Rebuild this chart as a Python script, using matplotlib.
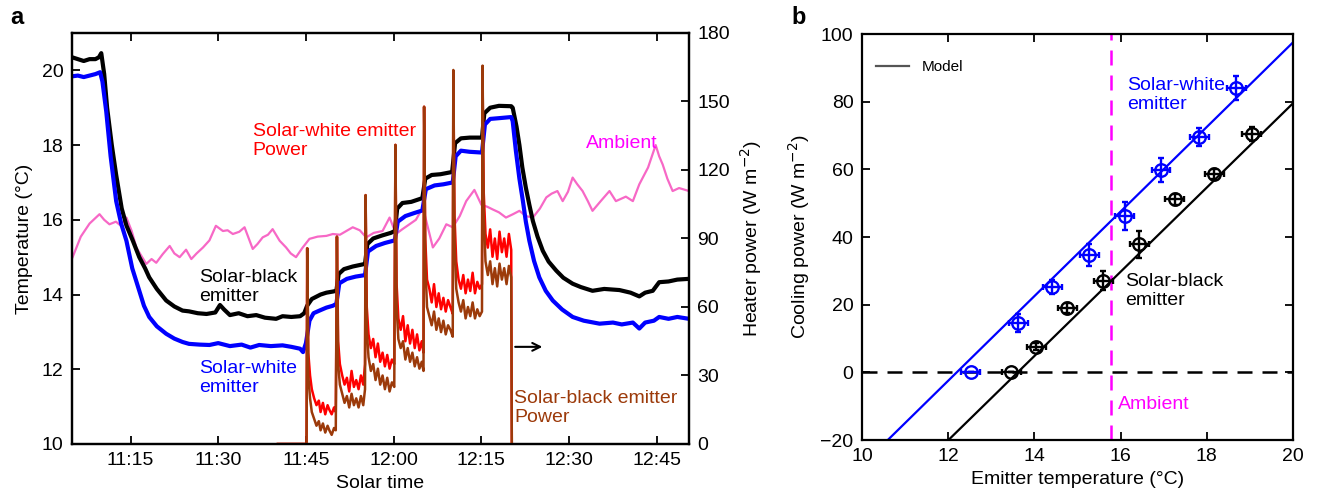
import matplotlib.pyplot as plt
import numpy as np

plt.rcParams['font.family'] = ['Liberation Sans', 'DejaVu Sans']
plt.rcParams['font.size'] = 14

# ---- panel a: time in minutes after 11:00 ----
time_ticks = [15, 30, 45, 60, 75, 90, 105]
time_labels = ['11:15', '11:30', '11:45', '12:00', '12:15', '12:30', '12:45']

black_t = [5, 6, 7, 8, 9, 9.6, 10.0, 10.5, 11.0, 11.8, 12.55, 13.5, 14.3, 15.4, 16.5, 17.5, 18.2, 19.5,
           21.1, 22.5, 23.9, 25, 26.5, 28, 29.5, 30.3, 31, 32, 33.5, 35, 36.5, 38, 39.9, 41, 42.5, 44,
           44.7, 45.2, 46, 47.5, 48.5, 49.6, 50.2, 50.6, 51.5, 53, 54.5, 55.1, 55.5, 56.5, 58, 59.5,
           60.2, 60.6, 61.5, 63, 64.9, 65.4, 66.5, 68, 70.0, 70.5, 71.5, 73, 75.1, 75.5, 76.5, 78,
           80.1, 80.35, 81.0, 81.5, 82.0, 82.6, 83.2, 83.8, 84.6, 85.5, 86.5, 87.8, 89, 90.6, 92, 94,
           96, 98.6, 100.5, 102, 103, 104.3, 105.4, 107, 108.5, 110.5]
black_T = [20.35, 20.3, 20.25, 20.3, 20.3, 20.35, 20.46, 19.9, 19.0, 18.0, 17.2, 16.3, 15.85, 15.44,
           15.0, 14.7, 14.46, 14.15, 13.84, 13.68, 13.57, 13.55, 13.5, 13.48, 13.52, 13.72, 13.6,
           13.45, 13.5, 13.42, 13.45, 13.38, 13.35, 13.42, 13.4, 13.42, 13.5, 13.7, 13.88, 14.0,
           14.05, 14.08, 14.1, 14.55, 14.68, 14.75, 14.8, 14.82, 15.35, 15.5, 15.58, 15.65, 15.7,
           16.3, 16.45, 16.48, 16.58, 17.1, 17.2, 17.22, 17.28, 18.05, 18.18, 18.2, 18.2, 18.85,
           19.0, 19.05, 19.04, 19.0, 18.5, 18.0, 17.4, 16.86, 16.4, 15.97, 15.55, 15.17, 14.88,
           14.64, 14.45, 14.29, 14.2, 14.1, 14.15, 14.12, 14.05, 13.95, 14.05, 14.1, 14.33, 14.35,
           14.4, 14.42]

blue_t = [5, 6, 7, 8, 9, 9.8, 10.2, 10.85, 11.6, 12.55, 13.4, 14.3, 15.3, 16.5, 17.3, 18.2, 19.5, 21.1,
          22.5, 23.9, 25, 26.8, 28.5, 30, 32, 34, 35.5, 37, 39, 41, 42.5, 44.0, 44.5, 45.0, 45.6,
          46.3, 47.3, 48.5, 49.6, 50.2, 50.7, 52, 53.5, 55.1, 55.6, 57, 58.5, 60.2, 60.7, 62, 63.5,
          64.9, 65.5, 67, 68.5, 70.1, 70.6, 71.5, 73, 75.1, 75.6, 76.5, 78, 80.1, 80.35, 80.9, 81.5,
          82.1, 82.6, 83.2, 84.0, 84.9, 86, 87.2, 88.8, 90.6, 92.5, 95.2, 97.5, 99, 100.9, 102, 103,
          104.5, 105.4, 107, 108.5, 110.5]
blue_T = [19.84, 19.86, 19.82, 19.86, 19.9, 19.95, 19.7, 18.9, 17.7, 16.5, 15.9, 15.44, 14.7, 14.1,
          13.7, 13.4, 13.15, 12.95, 12.82, 12.73, 12.68, 12.66, 12.65, 12.7, 12.62, 12.66, 12.58,
          12.65, 12.62, 12.64, 12.6, 12.55, 12.46, 12.7, 13.3, 13.5, 13.57, 13.65, 13.7, 13.75,
          14.3, 14.42, 14.48, 14.52, 15.15, 15.3, 15.38, 15.45, 15.95, 16.1, 16.18, 16.25, 16.82,
          16.92, 16.95, 17.0, 17.7, 17.85, 17.82, 17.8, 18.55, 18.7, 18.72, 18.75, 18.64, 17.84,
          17.1, 16.5, 15.95, 15.44, 14.9, 14.46, 14.1, 13.84, 13.6, 13.4, 13.3, 13.22, 13.25, 13.2,
          13.25, 13.09, 13.25, 13.3, 13.4, 13.35, 13.4, 13.35]

amb_t = [5.1, 6.5, 8.0, 9.7, 10.5, 11.4, 12.5, 13.3, 14.3, 15.2, 16, 16.8, 17.7, 18.6, 19.4, 20.5, 21.7,
         22.5, 23.4, 24.5, 25.4, 26.3, 27.4, 28.5, 29.6, 30.8, 31.6, 32.5, 33.6, 34.5, 35.9, 36.7,
         37.6, 38.5, 39.3, 40.5, 41.6, 42.4, 43.3, 44.4, 45.6, 47.0, 48.5, 49.6, 50.8, 51.9, 53.0,
         54.2, 55.3, 56.6, 58.1, 59.3, 60.4, 61.5, 62.7, 63.8, 65.0, 66.7, 67.8, 69.0, 70.1, 71.3,
         72.4, 73.8, 75.0, 76.0, 76.9, 78.0, 79.2, 80.4, 81.5, 82.6, 83.8, 85.0, 86.1, 87.0, 88.0,
         88.9, 89.8, 90.6, 91.4, 92.3, 93.2, 94.0, 95.4, 96.9, 98.0, 99.7, 100.9, 102, 103.5, 104.8,
         105.4, 106, 106.8, 107.7, 108.8, 110.5]
amb_T = [15.0, 15.55, 15.9, 16.15, 16.0, 15.88, 15.95, 15.85, 16.06, 15.7, 15.26, 15.05, 14.82, 14.95,
         14.85, 15.08, 15.3, 15.1, 15.0, 15.2, 14.95, 15.1, 15.26, 15.45, 15.84, 15.7, 15.72, 15.62,
         15.68, 15.8, 15.22, 15.35, 15.53, 15.6, 15.75, 15.44, 15.26, 15.1, 15.0, 15.25, 15.49,
         15.55, 15.57, 15.62, 15.6, 15.7, 15.8, 15.72, 15.53, 15.65, 15.7, 16.06, 15.62, 15.75,
         15.88, 16.0, 16.33, 15.26, 15.5, 15.88, 15.8, 16.1, 16.5, 16.8, 16.4, 16.35, 16.28, 16.2,
         16.06, 16.15, 16.24, 16.1, 16.06, 16.3, 16.6, 16.7, 16.77, 16.5, 16.75, 17.13, 16.95, 16.77,
         16.5, 16.24, 16.5, 16.77, 16.5, 16.62, 16.5, 16.95, 17.4, 18.0, 17.7, 17.48, 17.1, 16.77,
         16.85, 16.77]

red_t = [40.2, 45.1, 45.2, 45.4, 45.7, 46.0, 46.4, 46.8, 47.2, 47.5, 47.9, 48.3, 48.7, 49.0, 49.4, 49.8,
         50.1, 50.3, 50.5, 50.8, 51.2, 51.6, 52.0, 52.4, 52.8, 53.2, 53.6, 54.0, 54.4, 54.8, 55.1,
         55.2, 55.4, 55.7, 56.1, 56.5, 56.9, 57.3, 57.7, 58.1, 58.5, 58.9, 59.3, 59.7, 60.1, 60.3,
         60.5, 60.8, 61.2, 61.6, 62.0, 62.4, 62.8, 63.2, 63.6, 64.0, 64.4, 64.8, 65.1, 65.2, 65.4,
         65.7, 66.1, 66.5, 66.9, 67.3, 67.7, 68.1, 68.5, 68.9, 69.3, 69.7, 70.1, 70.2, 70.4, 70.7,
         71.1, 71.5, 71.9, 72.3, 72.7, 73.1, 73.5, 73.9, 74.3, 74.7, 75.1, 75.2, 75.4, 75.7, 76.1,
         76.5, 76.9, 77.3, 77.7, 78.1, 78.5, 78.9, 79.3, 79.7, 80.1, 80.2]
red_P = [0, 0, 85.7, 40, 30, 24, 20, 17, 19, 14, 18, 13, 17, 15, 13, 16, 14, 90.8, 45, 35, 30, 26, 29, 23,
         32, 25, 28, 24, 30, 26, 35, 109, 60, 48, 42, 46, 38, 44, 36, 40, 34, 39, 33, 37, 35, 131, 70,
         55, 50, 56, 45, 52, 44, 50, 42, 48, 41, 45, 40, 147.7, 90, 72, 68, 62, 70, 60, 66, 59, 64, 58,
         63, 60, 57, 163, 100, 80, 72, 68, 74, 66, 72, 67, 75, 66, 71, 68, 70, 160, 110, 92, 86, 94,
         82, 90, 81, 93, 84, 90, 82, 92, 85, 0]

brown_t = [40.2, 45.1, 45.25, 45.4, 45.7, 46.0, 46.4, 46.8, 47.2, 47.5, 47.9, 48.3, 48.7, 49.0, 49.4,
           49.8, 50.1, 50.3, 50.5, 50.8, 51.2, 51.6, 52.0, 52.4, 52.8, 53.2, 53.6, 54.0, 54.4, 54.8,
           55.1, 55.2, 55.4, 55.7, 56.1, 56.5, 56.9, 57.3, 57.7, 58.1, 58.5, 58.9, 59.3, 59.7, 60.1,
           60.3, 60.5, 60.8, 61.2, 61.6, 62.0, 62.4, 62.8, 63.2, 63.6, 64.0, 64.4, 64.8, 65.1, 65.2,
           65.4, 65.7, 66.1, 66.5, 66.9, 67.3, 67.7, 68.1, 68.5, 68.9, 69.3, 69.7, 70.1, 70.2, 70.4,
           70.7, 71.1, 71.5, 71.9, 72.3, 72.7, 73.1, 73.5, 73.9, 74.3, 74.7, 75.1, 75.2, 75.4, 75.7,
           76.1, 76.5, 76.9, 77.3, 77.7, 78.1, 78.5, 78.9, 79.3, 79.7, 80.1, 80.2]
brown_P = [0, 0, 85.7, 30, 20, 14, 11, 8, 10, 6, 9, 5, 8, 6, 4, 7, 6, 90.8, 35, 26, 22, 18, 21, 16, 22,
           17, 20, 16, 21, 17, 24, 109, 50, 38, 32, 35, 28, 33, 26, 30, 24, 29, 23, 27, 25, 131, 60,
           46, 42, 45, 37, 42, 36, 40, 34, 38, 33, 36, 32, 147.7, 80, 60, 56, 52, 58, 50, 55, 49, 54,
           48, 52, 50, 47, 163.8, 90, 68, 62, 58, 63, 55, 60, 56, 62, 55, 59, 56, 58, 165.7, 100, 80,
           74, 80, 70, 77, 69, 79, 72, 77, 70, 78, 73, 0]

# ---- panel b ----
white_temp = [12.53, 13.63, 14.42, 15.27, 16.1, 16.94, 17.83, 18.69]
white_power = [0, 14.5, 25.3, 34.7, 46.2, 59.8, 69.5, 84.0]
white_perr = [0, 2.6, 2.0, 3.2, 4.2, 3.5, 2.7, 3.5]
black_temp = [13.46, 14.05, 14.76, 15.6, 16.43, 17.26, 18.17, 19.04]
black_power = [0, 7.6, 18.9, 27.1, 37.9, 51.1, 58.6, 70.4]
black_perr = [0, 1.0, 1.5, 2.9, 4.0, 1.5, 1.5, 2.0]
temp_err = 0.22
model_x = [10, 20]
white_model = [-27.5, 97.5]   # model line for solar-white emitter
black_model = [-45.0, 79.5]   # model line for solar-black emitter
ambient_temp = 15.78

BROWN = '#9C3A0A'
PINK = '#F768C6'

fig = plt.figure(figsize=(13.24, 4.93), dpi=100)
ax = fig.add_axes([0.0544, 0.0994, 0.466, 0.8337])
ax2 = ax.twinx()

ax.plot(amb_t, amb_T, color=PINK, lw=1.6, zorder=1)
ax.plot(black_t, black_T, color='black', lw=3, zorder=2)
ax.plot(blue_t, blue_T, color='#0000FF', lw=3, zorder=2)
ax2.plot(red_t, red_P, color='#FF0000', lw=1.8)
ax2.plot(brown_t, brown_P, color=BROWN, lw=1.8)

ax.set_xlim(5, 110.5)
ax.set_ylim(10, 21)
ax2.set_ylim(0, 180)
ax.set_xticks(time_ticks)
ax.set_xticklabels(time_labels)
ax.set_yticks([10, 12, 14, 16, 18, 20])
ax2.set_yticks([0, 30, 60, 90, 120, 150, 180])
ax.tick_params(direction='in', top=True, length=6, width=1.3, pad=6)
ax2.tick_params(direction='in', length=6, width=1.3, pad=6)
for a in (ax, ax2):
    for s in a.spines.values():
        s.set_linewidth(1.6)
ax.set_xlabel('Solar time', labelpad=4)
ax.set_ylabel('Temperature (°C)', labelpad=6)
ax2.set_ylabel('Heater power (W m$^{-2}$)', labelpad=6)

ax.text(35.9, 18.1, 'Solar-white emitter\nPower', color='#FF0000', va='center', linespacing=1.15)
ax.text(92.8, 18.04, 'Ambient', color='#FF00FF', va='center')
ax.text(26.8, 14.2, 'Solar-black\nemitter', color='black', va='center', linespacing=1.15)
ax.text(26.8, 11.76, 'Solar-white\nemitter', color='#0000FF', va='center', linespacing=1.15)
ax.text(80.6, 10.96, 'Solar-black emitter\nPower', color=BROWN, va='center', linespacing=1.15)
ax.annotate('', xy=(85.9, 12.6), xytext=(80.3, 12.6),
            arrowprops=dict(arrowstyle='->', color='black', lw=1.5))
fig.text(0.008, 0.952, 'a', fontsize=17, fontweight='bold')

# panel b
bx = fig.add_axes([0.651, 0.1075, 0.3255, 0.8235])
bx.axhline(0, color='black', ls=(0, (6, 4)), lw=1.8)
bx.axvline(ambient_temp, color='#FF00FF', ls=(0, (6, 4)), lw=1.8)
bx.plot(model_x, white_model, color='#0000FF', lw=1.6)
bx.plot(model_x, black_model, color='black', lw=1.6)
bx.plot([], [], color='#555555', lw=1.6, label='Model')
bx.errorbar(white_temp, white_power, xerr=temp_err, yerr=white_perr, fmt='o', mfc='none',
            mec='#0000FF', ecolor='#0000FF', ms=9, mew=1.7, elinewidth=1.7, capsize=2.5, capthick=1.7)
bx.errorbar(black_temp, black_power, xerr=temp_err, yerr=black_perr, fmt='o', mfc='none',
            mec='black', ecolor='black', ms=9, mew=1.7, elinewidth=1.7, capsize=2.5, capthick=1.7)
bx.set_xlim(10, 20)
bx.set_ylim(-20, 100)
bx.set_xticks([10, 12, 14, 16, 18, 20])
bx.set_yticks([-20, 0, 20, 40, 60, 80, 100])
bx.tick_params(direction='in', top=True, right=True, length=6, width=1.3, pad=6)
for s in bx.spines.values():
    s.set_linewidth(1.6)
bx.set_xlabel('Emitter temperature (°C)', labelpad=4)
bx.set_ylabel('Cooling power (W m$^{-2}$)', labelpad=6)
bx.legend(loc='upper left', frameon=False, fontsize=11, handlelength=2.2,
          bbox_to_anchor=(0.0, 0.97))
bx.text(16.15, 82, 'Solar-white\nemitter', color='#0000FF', va='center', linespacing=1.15)
bx.text(16.1, 24, 'Solar-black\nemitter', color='black', va='center', linespacing=1.15)
bx.text(15.95, -9.5, 'Ambient', color='#FF00FF', va='center')
fig.text(0.598, 0.952, 'b', fontsize=17, fontweight='bold')

fig.savefig('out.png', dpi=100)
